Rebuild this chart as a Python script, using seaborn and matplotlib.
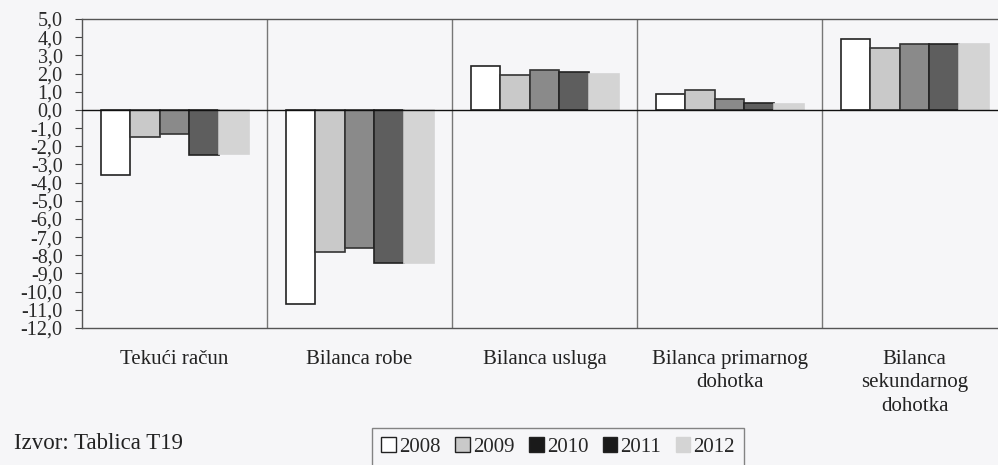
import pandas as pd
import seaborn as sns
import matplotlib.pyplot as plt
from matplotlib.patches import Patch

# =====================================================
# Data
# =====================================================

categories = [
    "Tekući račun",
    "Bilanca robe",
    "Bilanca usluga",
    "Bilanca primarnog\ndohotka",
    "Bilanca\nsekundarnog\ndohotka",
]
years = ["2008", "2009", "2010", "2011", "2012"]

values = {
    "2008": [-3.6, -10.7, 2.4, 0.9, 3.9],
    "2009": [-1.5, -7.8, 1.9, 1.1, 3.4],
    "2010": [-1.3, -7.6, 2.2, 0.6, 3.6],
    "2011": [-2.5, -8.4, 2.1, 0.4, 3.6],
    "2012": [-2.4, -8.4, 2.0, 0.3, 3.6],
}

y_ticks = list(range(5, -13, -1))
y_tick_labels = [f"{t:.1f}".replace(".", ",") for t in y_ticks]

source_text = "Izvor: Tablica T19"

fills = ["#ffffff", "#c9c9c9", "#8a8a8a", "#5e5e5e", "#d4d4d4"]
edges = ["#222222", "#333333", "#333333", "#222222", "#d4d4d4"]

rows = []
for y in years:
    for c, v in zip(categories, values[y]):
        rows.append({"category": c, "year": y, "value": v})
df = pd.DataFrame(rows)

# =====================================================
# Plot
# =====================================================

sns.set_style("white")
plt.rcParams["font.family"] = ["Liberation Serif", "DejaVu Serif"]

bg = "#f6f6f8"
fig = plt.figure(figsize=(9.98, 4.65), dpi=100, facecolor=bg)
ax = fig.add_axes([0.0822, 0.2946, 0.927, 0.6645])
ax.set_facecolor(bg)

sns.barplot(
    data=df,
    x="category",
    y="value",
    hue="year",
    order=categories,
    hue_order=years,
    palette=fills,
    width=0.8,
    gap=0,
    saturation=1,
    ax=ax,
    legend=False,
)

for cont, ec in zip(ax.containers, edges):
    for bar in cont:
        bar.set_edgecolor(ec)
        bar.set_linewidth(1.2)

ax.set_xlim(-0.5, 4.5)
ax.set_ylim(-12, 5)
ax.set_yticks(y_ticks)
ax.set_yticklabels(y_tick_labels, fontsize=14.5, color="#2a2a2a")
ax.tick_params(axis="y", direction="out", length=5, width=0.8,
               color="#444444", pad=9, left=True)
ax.tick_params(axis="x", length=0, pad=16, labelsize=15,
               labelcolor="#222222")
for lbl in ax.get_xticklabels():
    lbl.set_linespacing(1.3)
ax.set_xlabel("")
ax.set_ylabel("")

for x in [0.5, 1.5, 2.5, 3.5]:
    ax.axvline(x, color="#777777", lw=1.0, zorder=0)
ax.axhline(0, color="#111111", lw=1.0, zorder=3)

for side in ["left", "top", "bottom", "right"]:
    ax.spines[side].set_color("#555555")
    ax.spines[side].set_linewidth(1.0)

fig.text(14 / 998, 1 - 443 / 465, source_text, fontsize=16.5,
         color="#222222", va="center", ha="left")

handles = [Patch(facecolor=f, edgecolor=("#222222" if i < 4 else "#d4d4d4"))
           for i, f in enumerate(["#ffffff", "#c9c9c9", "#1a1a1a", "#1a1a1a",
                                  "#d4d4d4"])]
leg = fig.legend(
    handles,
    years,
    loc="upper left",
    bbox_to_anchor=(372 / 998, 1 - 428 / 465),
    borderaxespad=0,
    ncol=5,
    fontsize=15,
    frameon=True,
    fancybox=False,
    handlelength=0.7,
    handleheight=0.7,
    handletextpad=0.15,
    columnspacing=0.7,
    borderpad=0.45,
)
leg.get_frame().set_edgecolor("#666666")
leg.get_frame().set_facecolor(bg)
leg.get_frame().set_linewidth(1.0)

plt.savefig("out.png", dpi=100, facecolor=bg)
plt.close()
